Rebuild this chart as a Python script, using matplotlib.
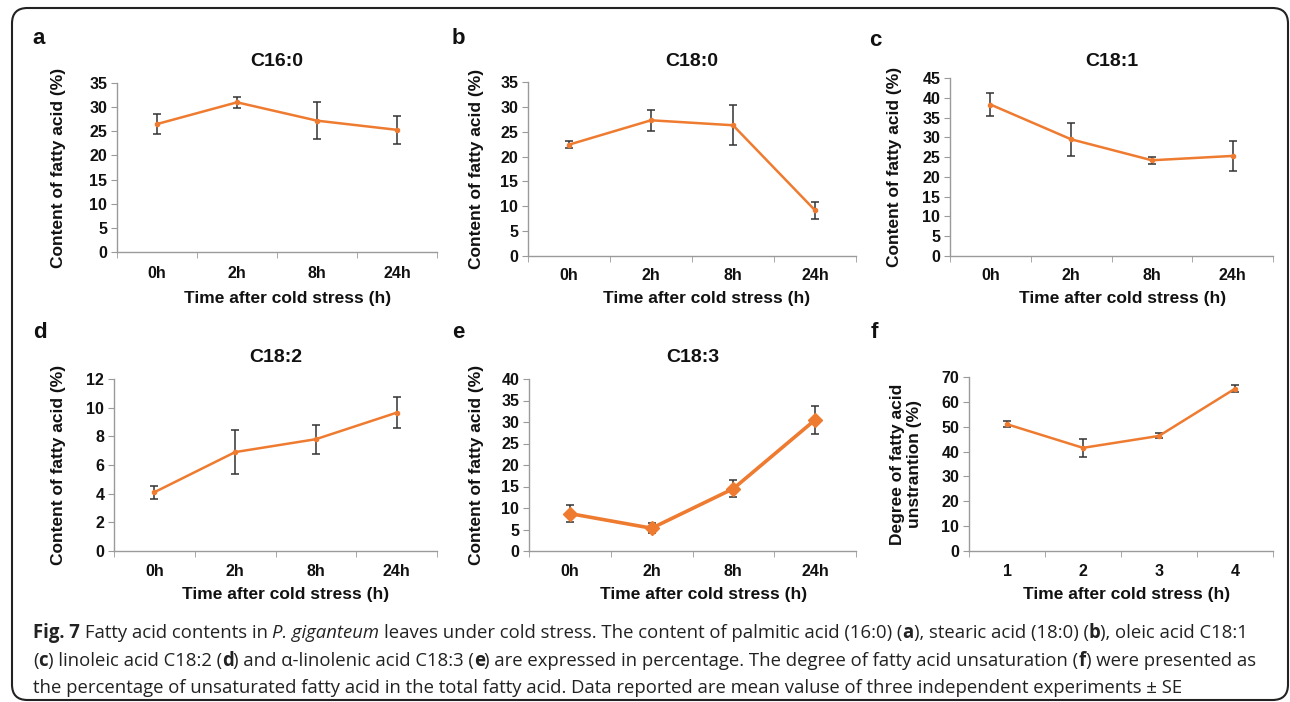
import matplotlib
matplotlib.use("Agg")
import matplotlib.pyplot as plt
from matplotlib.patches import FancyBboxPatch

W, H = 1290, 702

# ---- data ----
times = ["0h", "2h", "8h", "24h"]
stages = ["1", "2", "3", "4"]

c16_0 = [26.5, 31.0, 27.2, 25.3]
c16_0_err = [2.0, 1.2, 3.8, 2.9]

c18_0 = [22.4, 27.3, 26.3, 9.2]
c18_0_err = [0.7, 2.1, 4.0, 1.7]

c18_1 = [38.3, 29.5, 24.2, 25.3]
c18_1_err = [3.0, 4.2, 0.9, 3.8]

c18_2 = [4.1, 6.9, 7.8, 9.65]
c18_2_err = [0.45, 1.55, 1.0, 1.1]

c18_3 = [8.7, 5.3, 14.5, 30.5]
c18_3_err = [2.0, 1.1, 2.0, 3.3]

unsat = [51.0, 41.5, 46.3, 65.3]
unsat_err = [1.3, 3.5, 1.0, 1.3]

ORANGE = "#EE7B30"
SPINE = "#9a9a9a"
FONT = "Liberation Sans"
INK = "#111111"

fig = plt.figure(figsize=(W / 100, H / 100), dpi=100)


def px_axes(left, top, right, bottom):
    return fig.add_axes([left / W, 1 - bottom / H, (right - left) / W, (bottom - top) / H])


def panel(box, letter, letter_xy, title, title_y, xlabels, y, yerr, ymax, ystep,
          ylabel, ylabel_x, xlabel_x, xlabel_y, tick_y, big=False):
    left, top, right, bottom = box
    ax = px_axes(*box)
    x = range(len(y))
    if big:
        ax.errorbar(x, y, yerr=yerr, color=ORANGE, lw=2.6, marker="D", ms=7,
                    ecolor="#333333", elinewidth=1.1, capsize=3, capthick=1.1, zorder=3)
    else:
        ax.errorbar(x, y, yerr=yerr, color=ORANGE, lw=1.8, marker="o", ms=3,
                    ecolor="#333333", elinewidth=1.1, capsize=3, capthick=1.1, zorder=3)
    ax.set_xlim(-0.5, len(y) - 0.5)
    ax.set_ylim(0, ymax)
    ax.set_yticks(range(0, ymax + 1, ystep))
    ax.set_xticks(list(x))
    ax.set_xticks([i - 0.5 for i in range(len(y) + 1)], minor=True)
    ax.set_xticklabels(xlabels)
    for s in ["top", "right"]:
        ax.spines[s].set_visible(False)
    for s in ["left", "bottom"]:
        ax.spines[s].set_color(SPINE)
        ax.spines[s].set_linewidth(1.0)
    ax.tick_params(axis="x", which="major", length=0, pad=(tick_y - bottom) - 8)
    ax.tick_params(axis="x", which="minor", length=4, color=SPINE, direction="out")
    ax.tick_params(axis="y", length=4, color=SPINE, direction="out", pad=3)
    for lab in ax.get_xticklabels() + ax.get_yticklabels():
        lab.set_fontfamily(FONT)
        lab.set_fontweight("bold")
        lab.set_fontsize(11.5)
        lab.set_color(INK)
    ax.set_ylabel(ylabel, fontfamily=FONT, fontweight="bold", fontsize=12.5,
                  color=INK, linespacing=1.15)
    ax.yaxis.set_label_coords((ylabel_x - left) / (right - left), 0.5)
    ax.yaxis.label.set_va("center")
    ax.set_xlabel("Time after cold stress (h)", fontfamily=FONT, fontweight="bold",
                  fontsize=12.5, color=INK)
    ax.xaxis.set_label_coords((xlabel_x - left) / (right - left),
                              (bottom - xlabel_y) / (bottom - top))
    ax.xaxis.label.set_va("center")
    if title:
        fig.text((left + right) / 2 / W, 1 - title_y / H, title, ha="center", va="center",
                 fontfamily=FONT, fontweight="bold", fontsize=14, color=INK)
    fig.text(letter_xy[0] / W, 1 - letter_xy[1] / H, letter, ha="center", va="center",
             fontfamily=FONT, fontweight="bold", fontsize=16, color=INK)
    return ax


ylab = "Content of fatty acid (%)"
panel((117, 83, 437, 252), "a", (39, 38), "C16:0", 62, times, c16_0, c16_0_err, 35, 5,
      ylab, 58, 288, 298, 270)
panel((528, 82, 856, 256), "b", (458, 38), "C18:0", 62, times, c18_0, c18_0_err, 35, 5,
      ylab, 477, 707, 298, 273)
panel((950, 78, 1273, 256), "c", (875, 40), "C18:1", 62, times, c18_1, c18_1_err, 45, 5,
      ylab, 895, 1123, 298, 273)
panel((114, 379, 437, 551), "d", (40, 333), "C18:2", 357, times, c18_2, c18_2_err, 12, 2,
      ylab, 58, 286, 594, 568)
panel((529, 379, 856, 551), "e", (458, 333), "C18:3", 357, times, c18_3, c18_3_err, 40, 5,
      ylab, 477, 704, 594, 568, big=True)
panel((969, 377, 1273, 551), "f", (874, 333), None, None, stages, unsat, unsat_err, 70, 10,
      "Degree of fatty acid\nunstrantion (%)", 906, 1127, 594, 568)

# ---- caption with mixed styles ----
CAP_FONT = "Open Sans"
lines = [
    [("Fig. 7", "bold", "normal"), (" Fatty acid contents in ", "normal", "normal"),
     ("P. giganteum", "normal", "italic"),
     (" leaves under cold stress. The content of palmitic acid (16:0) (", "normal", "normal"),
     ("a", "bold", "normal"), ("), stearic acid (18:0) (", "normal", "normal"),
     ("b", "bold", "normal"), ("), oleic acid C18:1", "normal", "normal")],
    [("(", "normal", "normal"), ("c", "bold", "normal"),
     (") linoleic acid C18:2 (", "normal", "normal"), ("d", "bold", "normal"),
     (") and \u03b1-linolenic acid C18:3 (", "normal", "normal"), ("e", "bold", "normal"),
     (") are expressed in percentage. The degree of fatty acid unsaturation (", "normal", "normal"),
     ("f", "bold", "normal"), (") were presented as", "normal", "normal")],
    [("the percentage of unsaturated fatty acid in the total fatty acid. Data reported are "
      "mean valuse of three independent experiments \u00b1 SE", "normal", "normal")],
]
baselines = [638, 666, 693]
renderer = fig.canvas.get_renderer()


def seg_width(text, weight, style, size):
    t1 = fig.text(0, 0, "x" + text + "x", fontsize=size, family=CAP_FONT, weight=weight, style=style)
    t2 = fig.text(0, 0, "xx", fontsize=size, family=CAP_FONT, weight=weight, style=style)
    w = t1.get_window_extent(renderer).width - t2.get_window_extent(renderer).width
    t1.remove()
    t2.remove()
    return w


ref = 10.0
w1 = sum(seg_width(t, wt, st, ref) for t, wt, st in lines[0])
cap_size = ref * 1220 / w1

for segs, yb in zip(lines, baselines):
    xpos = 33
    for text, wt, st in segs:
        lead = len(text) - len(text.lstrip(" "))
        shown = text.strip(" ")
        if lead:
            xpos += seg_width(" " * lead, wt, st, cap_size)
        fig.text(xpos / W, 1 - yb / H, shown, fontsize=cap_size, family=CAP_FONT,
                 weight=wt, style=st, va="baseline", ha="left", color="#222222")
        xpos += seg_width(text.lstrip(" "), wt, st, cap_size)

# ---- outer rounded frame ----
frame = FancyBboxPatch((12 / W, 1 - 700 / H), (1288 - 12) / W, (700 - 8) / H,
                       boxstyle="round,pad=0,rounding_size=0.012",
                       transform=fig.transFigure, fill=False, ec="#222222", lw=1.5,
                       mutation_aspect=W / H)
fig.patches.append(frame)

fig.savefig("out.png", dpi=100)
